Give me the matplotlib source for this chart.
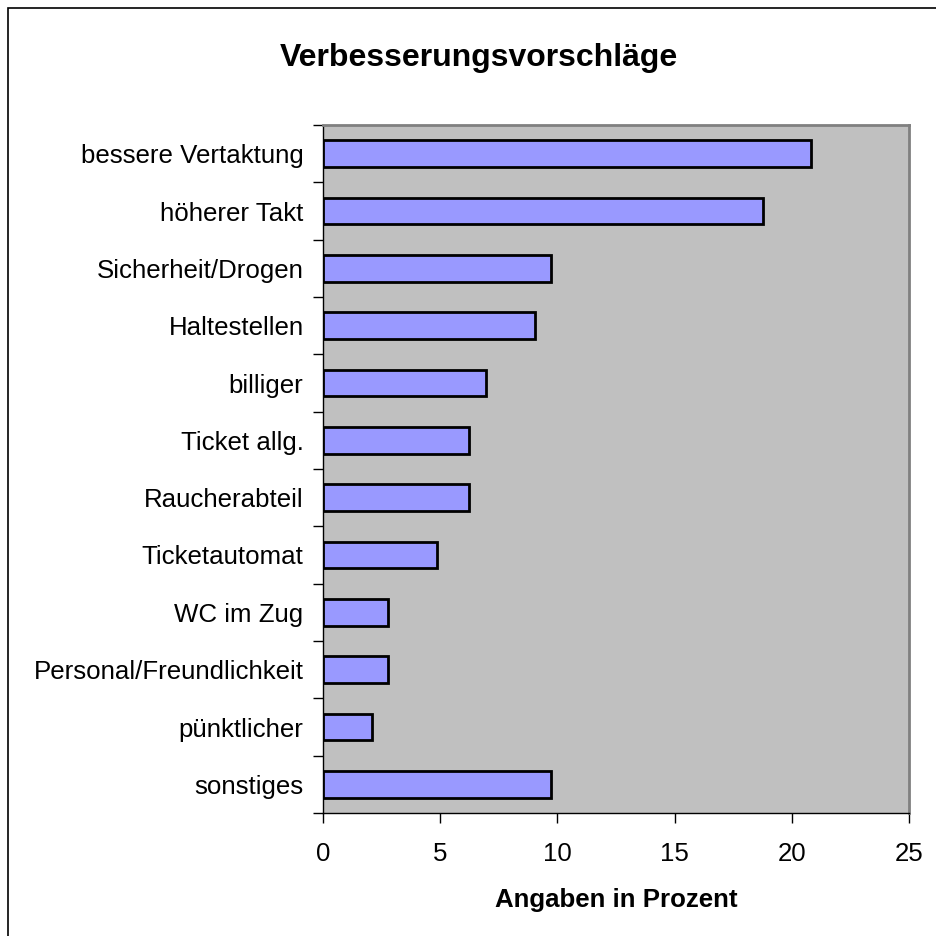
import matplotlib
matplotlib.use("Agg")
import matplotlib.pyplot as plt
from matplotlib.patches import Rectangle

# Chart data (percent of answers).
categories = ["bessere Vertaktung", "höherer Takt", "Sicherheit/Drogen", "Haltestellen",
              "billiger", "Ticket allg.", "Raucherabteil", "Ticketautomat",
              "WC im Zug", "Personal/Freundlichkeit", "pünktlicher", "sonstiges"]
values = [20.83, 18.75, 9.72, 9.03, 6.94, 6.25, 6.25, 4.86, 2.78, 2.78, 2.08, 9.72]
xticks = [0, 5, 10, 15, 20, 25]

plt.rcParams['font.family'] = ['Liberation Sans', 'DejaVu Sans']

W, H = 937, 936
fig = plt.figure(figsize=(W/100, H/100), dpi=100)
fig.patch.set_facecolor('white')

# Outer chart border (open at right/bottom edge like the source).
fig.patches.append(Rectangle((8/W, -0.01), 1.1, 1 - 8/H + 0.01, transform=fig.transFigure,
                             fill=False, edgecolor='black', linewidth=1.2))

ax = fig.add_axes([323/W, (H-813)/H, (909-323)/W, (813-125)/H])
ax.set_facecolor('#C0C0C0')

ypos = list(range(len(categories)))
ax.barh(ypos, values, height=0.47, color='#9999FF', edgecolor='black', linewidth=2.0, zorder=3)

ax.set_ylim(len(categories) - 0.5, -0.5)
ax.set_xlim(0, 25)

ax.set_yticks(ypos)
ax.set_yticklabels(categories, fontsize=18.6)
ax.set_yticks([i - 0.5 for i in range(len(categories) + 1)], minor=True)
ax.tick_params(axis='y', which='major', length=0, pad=14)
ax.tick_params(axis='y', which='minor', length=7, width=1, direction='out')

ax.set_xticks(xticks)
ax.set_xticklabels([str(t) for t in xticks], fontsize=18.6)
ax.tick_params(axis='x', length=7, width=1, direction='out', pad=14)

for s in ['top', 'right']:
    ax.spines[s].set_color('#808080')
    ax.spines[s].set_linewidth(2)
for s in ['left', 'bottom']:
    ax.spines[s].set_color('black')
    ax.spines[s].set_linewidth(1)

ax.set_xlabel("Angaben in Prozent", fontsize=18.6, fontweight='bold', labelpad=16)
fig.text(479/W, 1 - 58/H, "Verbesserungsvorschläge", fontsize=23, fontweight='bold',
         ha='center', va='center')

fig.savefig("out.png", dpi=100)
